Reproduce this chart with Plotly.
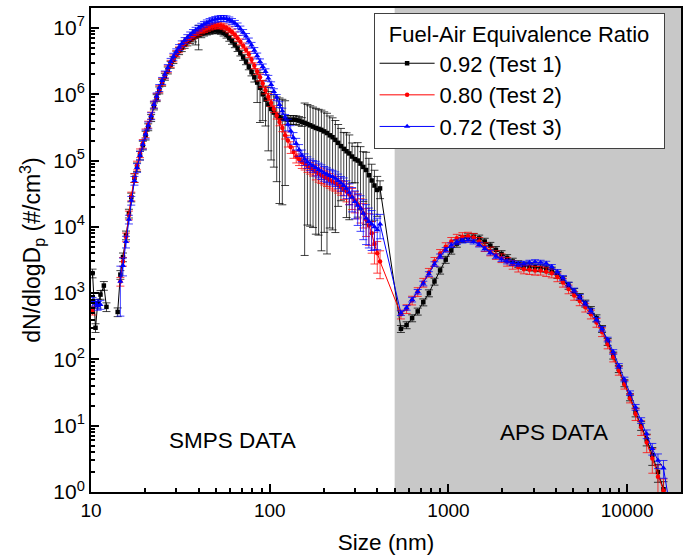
import math
import plotly.graph_objects as go

# ---------------- data ----------------
smps_size = [
    10.2, 10.6, 10.9, 11.3, 11.8, 12.2, 12.6, 13.1, 13.6, 14.1,
    14.6, 15.1, 15.7, 16.3, 16.8, 17.5, 18.1, 18.8, 19.5, 20.2,
    20.9, 21.7, 22.5, 23.3, 24.1, 25.0, 25.9, 26.9, 27.9, 28.9,
    30.0, 31.1, 32.2, 33.4, 34.6, 35.9, 37.2, 38.5, 40.0, 41.4,
    42.9, 44.5, 46.1, 47.8, 49.6, 51.4, 53.3, 55.2, 57.3, 59.4,
    61.5, 63.8, 66.1, 68.5, 71.0, 73.7, 76.4, 79.1, 82.0, 85.1,
    88.2, 91.4, 94.7, 98.2, 101.8, 105.5, 109.4, 113.4, 117.6, 121.9,
    126.3, 131.0, 135.8, 140.7, 145.9, 151.2, 156.8, 162.5, 168.5, 174.7,
    181.1, 187.7, 194.6, 201.7, 209.1, 216.7, 224.7, 232.9, 241.4, 250.3,
    259.5, 269.0, 278.8, 289.0, 299.6, 310.6, 322.0, 333.8, 346.0, 358.7,
    371.8, 385.4, 399.5, 414.2,
]
aps_size = [
    542, 583, 626, 673, 723, 777, 835, 898, 965, 1037,
    1114, 1197, 1286, 1382, 1486, 1596, 1715, 1843, 1981, 2129,
    2288, 2458, 2642, 2839, 3051, 3278, 3523, 3786, 4068, 4371,
    4698, 5048, 5425, 5829, 6264, 6732, 7234, 7774, 8354, 8977,
    9647, 10370, 11140, 11970, 12860, 13820, 14860, 15960, 17150,
]

# Test 1 (0.92)
smps_t1 = [
    2.0e3, 300, 700, 950, 1.3e3, 620, None, None, None, 520,
    1.9e3, 3.5e3, 7.5e3, 1.6e4, 2.8e4, 5.5e4, 8.0e4, 1.2e5, 1.7e5, 2.4e5,
    3.2e5, 4.4e5, 6.6e5, 8.8e5, 1.15e6, 1.5e6, 1.85e6, 2.3e6, 2.8e6, 3.3e6,
    4.0e6, 4.5e6, 5.0e6, 5.6e6, 6.1e6, 6.6e6, 7.0e6, 7.4e6, 7.8e6, 8.1e6,
    8.4e6, 8.7e6, 8.9e6, 9.1e6, 9.2e6, 9.1e6, 8.9e6, 8.4e6, 7.8e6, 7.0e6,
    6.3e6, 5.6e6, 4.9e6, 4.2e6, 3.6e6, 3.1e6, 2.6e6, 2.15e6, 1.8e6, 1.5e6,
    1.25e6, 1.0e6, 8.3e5, 7.0e5, 6.0e5, 5.3e5, 4.8e5, 4.5e5, 4.3e5, 4.2e5,
    4.15e5, 4.1e5, 4.15e5, 4.1e5, 4.0e5, 3.85e5, 3.7e5, 3.55e5, 3.4e5, 3.25e5,
    3.1e5, 3.0e5, 2.9e5, 2.75e5, 2.6e5, 2.4e5, 2.25e5, 2.05e5, 1.85e5, 1.65e5,
    1.5e5, 1.38e5, 1.28e5, 1.15e5, 1.05e5, 1.0e5, 9.0e4, 8.0e4, 7.2e4, 6.0e4,
    5.0e4, 4.2e4, 3.6e4, 3.8e4,
]
smps_t1_err = [
    0.15, 0.15, 0.15, 0.15, 0.15, 0.15, 0, 0, 0, 0.15,
    0.15, 0.15, 0.15, 0.15, 0.15, 0.15, 0.15, 0.15, 0.15, 0.15,
    0.12, 0.12, 0.12, 0.12, 0.12, 0.12, 0.12, 0.12, 0.12, 0.12,
    0.12, 0.12, 0.12, 0.12, 0.12, 0.12, 0.12, 0.25, 0.4, 0.12,
    0.1, 0.1, 0.1, 0.1, 0.1, 0.1, 0.1, 0.1, 0.1, 0.1,
    0.1, 0.1, 0.1, 0.1, 0.1, 0.1, 0.1, 0.12, 0.15, 0.5,
    0.7, 0.6, 0.6, 0.8, 0.83, 0.85, 0.9, 0.95, 0.95, 0.9,
    0.15, 0.15, 0.15, 0.15, 0.15, 0.15, 0.99, 0.97, 0.97, 0.97,
    0.975, 0.975, 0.985, 0.97, 0.985, 0.96, 0.96, 0.96, 0.89, 0.85,
    0.77, 0.9, 0.9, 0.6, 0.56, 0.86, 0.8, 0.7, 0.85, 0.8,
    0.76, 0.7, 0.6, 0.3,
]
aps_t1 = [
    290, 330, 420, 530, 730, 1.0e3, 1.5e3, 2.2e3, 3.2e3, 4.4e3,
    5.6e3, 6.6e3, 7.0e3, 7.1e3, 6.7e3, 6.0e3, 5.2e3, 4.5e3, 3.9e3, 3.4e3,
    3.0e3, 2.75e3, 2.6e3, 2.5e3, 2.45e3, 2.4e3, 2.35e3, 2.2e3, 1.9e3, 1.6e3,
    1.3e3, 1.05e3, 880, 700, 560, 420, 290, 185, 115, 72,
    44, 27, 16, 10, 6.2, 3.6, 2.0, 1.1, None,
]
aps_t1_err = [
    0.12, 0.12, 0.12, 0.12, 0.12, 0.12, 0.12, 0.12, 0.12, 0.12,
    0.12, 0.12, 0.12, 0.12, 0.12, 0.12, 0.12, 0.12, 0.12, 0.12,
    0.12, 0.12, 0.12, 0.12, 0.12, 0.12, 0.12, 0.12, 0.12, 0.12,
    0.12, 0.12, 0.12, 0.12, 0.12, 0.12, 0.12, 0.12, 0.12, 0.12,
    0.12, 0.12, 0.15, 0.15, 0.2, 0.3, 0.3, 0.3, 0,
]

# Test 2 (0.80)
smps_t2 = [
    550, None, None, None, None, None, None, None, None, None,
    1.5e3, 3.0e3, 7.0e3, 1.5e4, 2.9e4, 5.5e4, 8.5e4, 1.3e5, 1.8e5, 2.6e5,
    3.5e5, 4.8e5, 7.0e5, 9.2e5, 1.2e6, 1.55e6, 1.95e6, 2.4e6, 2.9e6, 3.5e6,
    4.1e6, 4.7e6, 5.3e6, 5.9e6, 6.5e6, 7.1e6, 7.6e6, 8.1e6, 8.6e6, 9.1e6,
    9.5e6, 9.9e6, 1.03e7, 1.06e7, 1.08e7, 1.09e7, 1.08e7, 1.05e7, 1.0e7, 9.4e6,
    8.7e6, 7.9e6, 7.0e6, 6.2e6, 5.4e6, 4.7e6, 4.0e6, 3.3e6, 2.7e6, 2.2e6,
    1.8e6, 1.45e6, 1.15e6, 9.2e5, 7.4e5, 6.0e5, 4.8e5, 3.8e5, 3.1e5, 2.4e5,
    2.0e5, 1.6e5, 1.35e5, 1.15e5, 1.05e5, 9.5e4, 9.0e4, 8.3e4, 7.8e4, 7.3e4,
    6.8e4, 6.3e4, 6.0e4, 5.7e4, 5.4e4, 5.1e4, 4.8e4, 4.6e4, 4.3e4, 4.0e4,
    3.7e4, 3.4e4, 3.1e4, 2.8e4, 2.5e4, 2.2e4, 1.9e4, 1.6e4, 1.3e4, 1.05e4,
    8.0e3, 5.5e3, 4.0e3, 3.0e3,
]
smps_t2_err = [
    0.15, 0, 0, 0, 0, 0, 0, 0, 0, 0,
    0.15, 0.15, 0.15, 0.15, 0.15, 0.15, 0.15, 0.15, 0.15, 0.15,
    0.12, 0.12, 0.12, 0.12, 0.12, 0.12, 0.12, 0.12, 0.12, 0.12,
    0.1, 0.1, 0.1, 0.1, 0.1, 0.1, 0.1, 0.1, 0.1, 0.1,
    0.1, 0.1, 0.1, 0.1, 0.1, 0.1, 0.1, 0.1, 0.1, 0.1,
    0.1, 0.1, 0.1, 0.1, 0.1, 0.1, 0.1, 0.1, 0.1, 0.1,
    0.12, 0.12, 0.12, 0.12, 0.12, 0.12, 0.12, 0.12, 0.12, 0.12,
    0.2, 0.2, 0.2, 0.2, 0.2, 0.2, 0.2, 0.2, 0.2, 0.2,
    0.25, 0.25, 0.25, 0.25, 0.25, 0.25, 0.25, 0.25, 0.25, 0.25,
    0.3, 0.3, 0.3, 0.35, 0.35, 0.4, 0.4, 0.4, 0.45, 0.5,
    0.5, 0.5, 0.5, 0.45,
]
aps_t2 = [
    480, 580, 780, 1.05e3, 1.45e3, 2.05e3, 3.0e3, 3.95e3, 5.0e3, 6.0e3,
    6.7e3, 7.1e3, 7.2e3, 6.9e3, 6.0e3, 5.0e3, 4.3e3, 3.8e3, 3.4e3, 3.0e3,
    2.7e3, 2.45e3, 2.3e3, 2.25e3, 2.2e3, 2.2e3, 2.1e3, 2.0e3, 1.75e3, 1.45e3,
    1.15e3, 920, 760, 610, 480, 360, 260, 170, 108, 68,
    42, 26, 15, 9.5, 5.6, 3.2, 1.7, 1.05, None,
]
aps_t2_err = [
    0.15, 0.15, 0.15, 0.15, 0.15, 0.15, 0.15, 0.15, 0.15, 0.15,
    0.15, 0.15, 0.15, 0.15, 0.15, 0.15, 0.15, 0.15, 0.15, 0.15,
    0.15, 0.15, 0.15, 0.15, 0.15, 0.15, 0.15, 0.15, 0.15, 0.15,
    0.15, 0.15, 0.15, 0.15, 0.15, 0.15, 0.15, 0.15, 0.15, 0.15,
    0.15, 0.15, 0.2, 0.25, 0.3, 0.4, 0.5, 0.5, 0,
]

# Test 3 (0.72)
smps_t3 = [
    750, 700, 650, 670, None, None, None, None, None, None,
    1.5e3, 2.6e3, 6.0e3, 1.3e4, 2.5e4, 5.0e4, 7.8e4, 1.2e5, 1.75e5, 2.5e5,
    3.4e5, 4.7e5, 7.0e5, 9.3e5, 1.25e6, 1.6e6, 2.0e6, 2.5e6, 3.1e6, 3.7e6,
    4.4e6, 5.1e6, 5.8e6, 6.5e6, 7.2e6, 7.9e6, 8.6e6, 9.3e6, 1.0e7, 1.07e7,
    1.14e7, 1.2e7, 1.26e7, 1.31e7, 1.35e7, 1.38e7, 1.4e7, 1.4e7, 1.38e7, 1.33e7,
    1.26e7, 1.18e7, 1.08e7, 9.7e6, 8.6e6, 7.5e6, 6.4e6, 5.5e6, 4.6e6, 3.8e6,
    3.1e6, 2.6e6, 2.2e6, 1.75e6, 1.4e6, 1.1e6, 9.0e5, 7.0e5, 5.6e5, 4.5e5,
    3.5e5, 2.8e5, 2.2e5, 1.8e5, 1.45e5, 1.2e5, 1.05e5, 9.5e4, 8.8e4, 8.3e4,
    7.8e4, 7.3e4, 6.9e4, 6.5e4, 6.2e4, 5.9e4, 5.7e4, 5.4e4, 5.0e4, 4.6e4,
    4.2e4, 3.8e4, 3.3e4, 2.8e4, 2.4e4, 2.1e4, 1.9e4, 1.6e4, 1.35e4, 1.2e4,
    1.1e4, 1.0e4, 9.0e3, 1.1e4,
]
smps_t3_err = [
    0.15, 0.15, 0.15, 0.15, 0, 0, 0, 0, 0, 0,
    0.7, 0.3, 0.2, 0.15, 0.15, 0.15, 0.15, 0.15, 0.15, 0.15,
    0.12, 0.12, 0.12, 0.12, 0.12, 0.12, 0.12, 0.12, 0.12, 0.12,
    0.1, 0.1, 0.1, 0.1, 0.1, 0.1, 0.1, 0.1, 0.1, 0.1,
    0.1, 0.1, 0.1, 0.1, 0.1, 0.1, 0.1, 0.1, 0.1, 0.1,
    0.1, 0.1, 0.1, 0.1, 0.1, 0.1, 0.1, 0.1, 0.1, 0.1,
    0.1, 0.1, 0.1, 0.1, 0.1, 0.1, 0.1, 0.1, 0.1, 0.1,
    0.2, 0.2, 0.2, 0.2, 0.2, 0.2, 0.2, 0.2, 0.2, 0.2,
    0.25, 0.25, 0.25, 0.25, 0.25, 0.25, 0.25, 0.25, 0.25, 0.25,
    0.3, 0.3, 0.35, 0.4, 0.45, 0.5, 0.55, 0.6, 0.6, 0.6,
    0.6, 0.55, 0.5, 0.4,
]
aps_t3 = [
    500, 600, 800, 1.05e3, 1.4e3, 1.95e3, 2.75e3, 3.6e3, 4.5e3, 5.3e3,
    5.9e3, 6.2e3, 6.3e3, 6.0e3, 5.4e3, 4.7e3, 4.1e3, 3.6e3, 3.25e3, 3.0e3,
    2.85e3, 2.75e3, 2.8e3, 2.9e3, 2.95e3, 2.9e3, 2.8e3, 2.5e3, 2.1e3, 1.7e3,
    1.35e3, 1.1e3, 880, 700, 540, 400, 290, 200, 130, 80,
    50, 31, 19, 12, 7.5, 4.5, 3.0, 2.3, 0.7,
]
aps_t3_err = [
    0.08, 0.08, 0.08, 0.08, 0.08, 0.08, 0.08, 0.08, 0.08, 0.08,
    0.08, 0.08, 0.08, 0.08, 0.08, 0.08, 0.08, 0.08, 0.08, 0.08,
    0.08, 0.08, 0.08, 0.08, 0.08, 0.08, 0.08, 0.08, 0.08, 0.08,
    0.08, 0.08, 0.08, 0.08, 0.08, 0.08, 0.08, 0.08, 0.08, 0.08,
    0.08, 0.08, 0.1, 0.1, 0.15, 0.2, 0.25, 0.3, 0,
]

series_names = ["0.92 (Test 1)", "0.80 (Test 2)", "0.72 (Test 3)"]
series_colors = ["#000000", "#ff0000", "#0000ff"]
series_err_colors = ["rgba(0,0,0,0.75)", "rgba(255,0,0,0.75)", "rgba(0,0,255,0.75)"]
series_symbols = ["square", "circle", "triangle-up"]

x_range = (10, 20000)
y_range = (1, 2e7)
aps_start = 500

# --------------- figure ---------------
fig = go.Figure()

sets = [
    (smps_t1 + aps_t1, smps_t1_err + aps_t1_err),
    (smps_t2 + aps_t2, smps_t2_err + aps_t2_err),
    (smps_t3 + aps_t3, smps_t3_err + aps_t3_err),
]
xs = smps_size + aps_size

for (ys, rel), name, col, ecol, sym in zip(sets, series_names, series_colors,
                                           series_err_colors, series_symbols):
    err = [(v * r if v is not None else 0) for v, r in zip(ys, rel)]
    fig.add_trace(go.Scatter(
        x=xs, y=ys, name=name, mode="lines+markers",
        line=dict(color=col, width=1),
        marker=dict(symbol=sym, color=col, size=4.5 if sym != "triangle-up" else 5.5,
                    line=dict(width=0)),
        error_y=dict(type="data", array=err, visible=True, color=ecol,
                     thickness=1, width=4),
        connectgaps=False,
    ))

lx0, lx1 = math.log10(x_range[0]), math.log10(x_range[1])
fig.add_shape(type="rect", xref="paper", yref="paper",
              x0=(math.log10(aps_start) - lx0) / (lx1 - lx0), x1=1,
              y0=0, y1=1, fillcolor="#c8c8c8", line=dict(width=0), layer="below")

fig.add_annotation(x=math.log10(62), y=0.077, xref="x", yref="paper",
                   text="SMPS DATA", showarrow=False, font=dict(size=22.5, color="black"))
fig.add_annotation(x=math.log10(3870), y=0.093, xref="x", yref="paper",
                   text="APS DATA", showarrow=False, font=dict(size=22.5, color="black"))

x_ticks = [10, 100, 1000, 10000]
x_minor = [m * d for d in (10, 100, 1000) for m in range(2, 10)] + [20000]
y_ticks = [10 ** k for k in range(0, 8)]
y_minor = [m * 10 ** k for k in range(0, 7) for m in range(2, 10)] + [2e7]

fig.update_xaxes(
    type="log", range=[lx0, lx1],
    tickvals=x_ticks, ticktext=[str(v) for v in x_ticks],
    ticks="inside", ticklen=8, tickwidth=1.5, tickcolor="black",
    minor=dict(tickvals=x_minor, ticks="inside", ticklen=4, tickcolor="black", showgrid=False),
    showline=True, linecolor="black", linewidth=2, mirror=True,
    showgrid=False, zeroline=False,
    tickfont=dict(size=19, color="black"),
    title=dict(text="Size (nm)", font=dict(size=22.5, color="black"), standoff=14),
)
fig.update_yaxes(
    type="log", range=[math.log10(y_range[0]), math.log10(y_range[1])],
    tickvals=y_ticks, ticktext=["10<sup>%d</sup>" % k for k in range(0, 8)],
    ticks="inside", ticklen=8, tickwidth=1.5, tickcolor="black",
    minor=dict(tickvals=y_minor, ticks="inside", ticklen=4, tickcolor="black", showgrid=False),
    showline=True, linecolor="black", linewidth=2, mirror=True,
    showgrid=False, zeroline=False,
    tickfont=dict(size=21, color="black"),
    title=dict(text="dN/dlogD<sub>p</sub> (#/cm<sup>3</sup>)",
               font=dict(size=23, color="black"), standoff=6),
)

fig.update_layout(
    width=684, height=557,
    margin=dict(l=91, r=1, t=8, b=65),
    paper_bgcolor="white", plot_bgcolor="white",
    font=dict(family="Liberation Sans, Arial, sans-serif", color="black"),
    showlegend=True,
    legend=dict(
        x=0.479, y=0.99, xanchor="left", yanchor="top",
        bgcolor="white", bordercolor="#404040", borderwidth=1,
        font=dict(size=22, color="black"),
        title=dict(text="&nbsp;&nbsp;Fuel-Air Equivalence Ratio&nbsp;&nbsp;",
                   font=dict(size=22, color="black")),
        tracegroupgap=0, itemwidth=55,
    ),
)

fig.write_html("out.html")
